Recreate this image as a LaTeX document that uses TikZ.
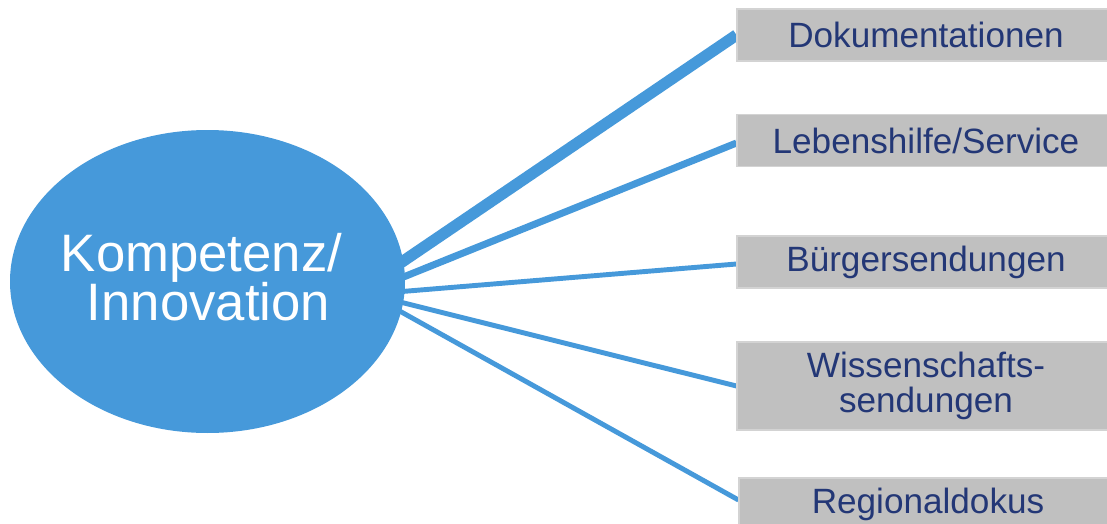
\documentclass[tikz,border=0pt]{standalone}
\usepackage{fontspec}
\setmainfont{Liberation Sans}
\usetikzlibrary{backgrounds,shapes.geometric}
\definecolor{topicblue}{RGB}{70,153,218}
\definecolor{boxgray}{RGB}{192,192,192}
\definecolor{labelnavy}{RGB}{35,55,118}
\tikzset{
  hub/.style={ellipse, fill=topicblue, minimum width=395*0.02cm, minimum height=303*0.02cm,
    inner sep=0pt},
  hubtext/.style={text=white, align=center, font=\fontsize{30}{29}\selectfont},
  topicbox/.style={rectangle, fill=boxgray, draw=boxgray!70!white, line width=0.6pt,
    minimum width=378*0.02cm, minimum height=52*0.02cm, inner sep=0pt,
    text=labelnavy, align=center, font=\fontsize{20}{20}\selectfont},
  spoke/.style={draw=topicblue, line cap=butt}
}
\begin{document}
\begin{tikzpicture}[x=0.02cm, y=-0.02cm]
\useasboundingbox (0,0) rectangle (1107,524);
% central topic
\node[hub] (hub) at (207.5,281.5) {};
\node[hubtext] (hubtext) at ([xshift=-6*0.02cm, yshift=4*0.02cm]hub.center)
  {Kompetenz/\\[-1pt]\hspace*{8pt}Innovation};
% programme categories
\node[topicbox] (doku) at (926,35) {Dokumentationen};
\node[topicbox] (leben) at (926,140.5) {Lebenshilfe/Service};
\node[topicbox] (buerger) at (926,262) {Bürgersendungen};
\node[topicbox, minimum height=88*0.02cm] (wiss) at (926,386) {Wissenschafts-\\sendungen};
\node[topicbox] (region) at (928,504) {Regionaldokus};
% spoke origins on the right rim of the ellipse
\coordinate (s1) at (396,266);
\coordinate (s2) at (396,280);
\coordinate (s3) at (396,292);
\coordinate (s4) at (396,301);
\coordinate (s5) at (396,309);
\begin{scope}[on background layer]
  \draw[spoke, line width=6.5pt] (s1) -- (doku.west);
  \draw[spoke, line width=4pt] (s2) -- ([yshift=-2.5*0.02cm]leben.west);
  \draw[spoke, line width=2.8pt] (s3) -- ([yshift=-2*0.02cm]buerger.west);
  \draw[spoke, line width=2.8pt] (s4) -- (wiss.west);
  \draw[spoke, line width=2.8pt] (s5) -- ([yshift=4*0.02cm]region.west);
\end{scope}
\end{tikzpicture}
\end{document}
